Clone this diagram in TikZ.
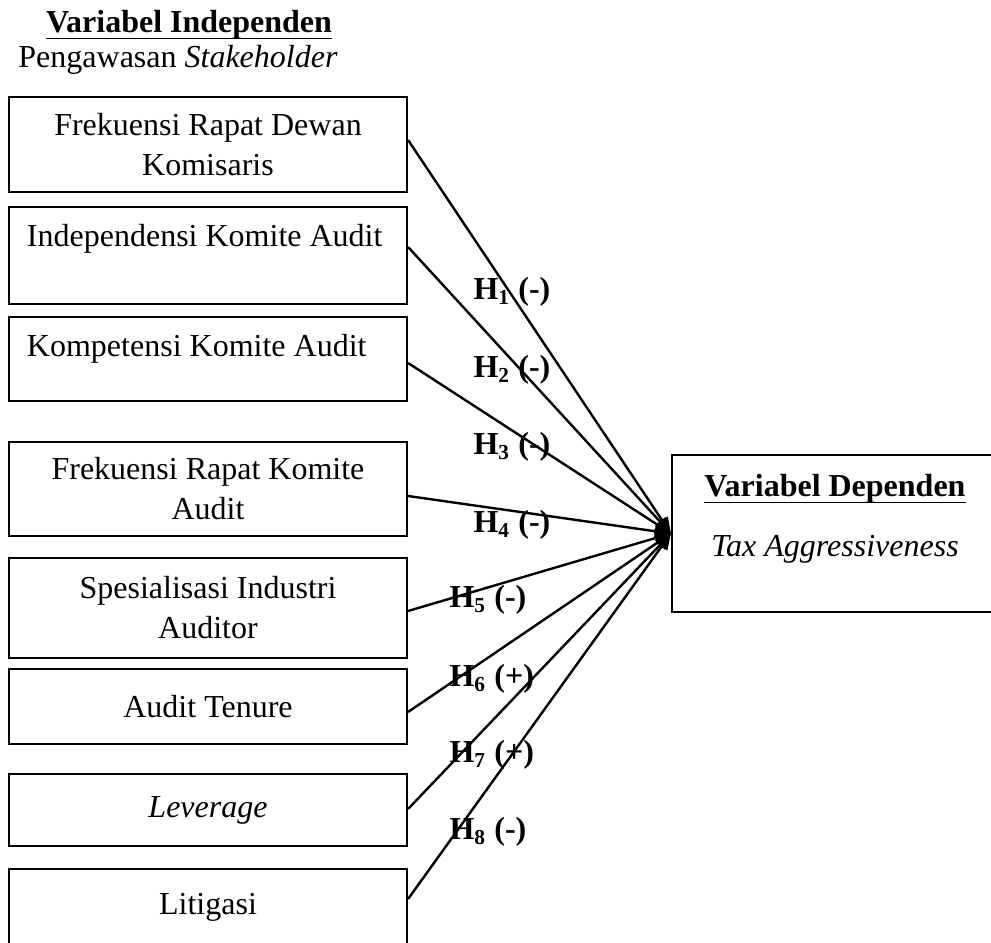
\documentclass[tikz,border=0pt]{standalone}
\usepackage{fontspec}
\setmainfont{Liberation Serif}
\usepackage{tikz}
\usetikzlibrary{positioning,calc,arrows.meta}
\newcommand{\garis}[1]{\underline{\raisebox{0pt}[\height][0.8pt]{#1}}}

\begin{document}
\begin{tikzpicture}[
    x = 0.375pt, y = -0.375pt,
    every node/.style = {font=\fontsize{12pt}{15pt}\selectfont, inner sep=0pt},
    var/.style = {draw, line width=0.8pt, minimum width=149.25pt, align=center},
    varkiri/.style = {var, text width=135.75pt, align=flush left},
    hyp/.style = {line width=0.9pt, -{Triangle[length=6pt, width=5pt]}},
    hlabel/.style = {anchor=west, font=\fontsize{12pt}{15pt}\selectfont\bfseries}
    ]
    \useasboundingbox (0,0) rectangle (991,943);
    \node (judul) at (189,25.5) {\garis{\textbf{Variabel Independen}}};
    \node (subjudul) at (178,60) {Pengawasan \textit{Stakeholder}};
    % variabel independen
    \node[var, minimum height=35.6pt] (rapatdk) at (208,144.5) {Frekuensi Rapat Dewan\\Komisaris};
    \node[varkiri, minimum height=36.4pt] (indkom) at (208,255.5) {Independensi Komite Audit\\\mbox{}};
    \node[varkiri, minimum height=31.5pt] (kompkom) at (208,359) {Kompetensi Komite Audit\\[-5pt]\mbox{}};
    \node[var, minimum height=35.25pt] (rapatkom) at (208,489) {Frekuensi Rapat Komite\\Audit};
    \node[var, minimum height=37.5pt] (spesial) at (208,608) {Spesialisasi Industri\\Auditor};
    \node[var, minimum height=28.1pt] (tenure) at (208,706.5) {Audit Tenure};
    \node[var, minimum height=27pt] (lev) at (208,810) {\textit{Leverage}};
    \node[var, minimum height=28.5pt] (litig) at (208,907) {Litigasi};
    % variabel dependen
    \node[var, minimum width=122.25pt, minimum height=58.9pt] (dep) at (835,533.5) {};
    \node (depjudul) at (835,489.5) {\garis{\textbf{Variabel Dependen}}};
    \node (depisi) at (835,549) {\textit{Tax Aggressiveness}};
    % hipotesis
    \foreach \n/\d in {rapatdk/-4.5, indkom/-8.5, kompkom/4, rapatkom/7, spesial/3, tenure/5.5, lev/-1, litig/-8}
        \draw[hyp] ($(\n.east)+(0,\d)$) -- (dep.west);
    \foreach \i/\s/\x/\y in {1/-/473/292, 2/-/473/370, 3/-/473/447, 4/-/473/525,
                              5/-/449/600, 6/+/449/679, 7/+/449/755, 8/-/449/832}
        \node[hlabel] (h\i) at (\x,\y) {H\textsubscript{\i} (\s)};
\end{tikzpicture}
\end{document}
